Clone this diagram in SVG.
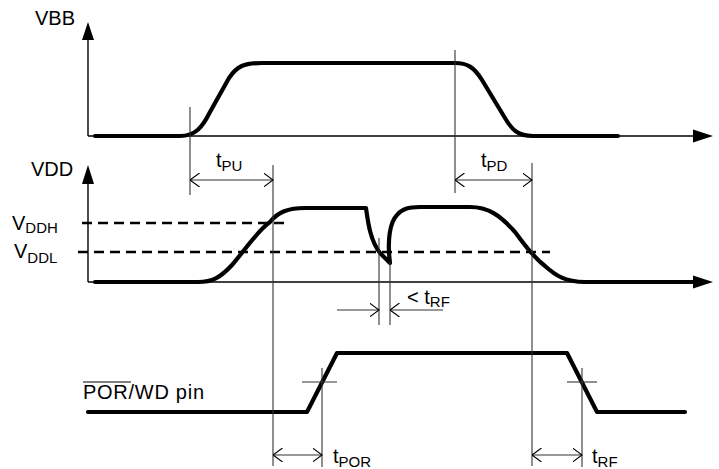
<svg xmlns="http://www.w3.org/2000/svg" width="719" height="469" viewBox="0 0 719 469">
<style>
text{font-family:"Liberation Sans",Arial,sans-serif;fill:#000}
.lbl{font-size:20px}
.sub{font-size:15px}
.axis{stroke:#000;stroke-width:1.4;fill:none}
.thin{stroke:#333;stroke-width:1.1;fill:none}
.trace{stroke:#000;stroke-width:4.2;fill:none;stroke-linecap:round;stroke-linejoin:round}
.dash{stroke:#000;stroke-width:2.6;fill:none;stroke-dasharray:10 6}
.head{fill:#000}
</style>
<defs>
<marker id="open" viewBox="0 0 10 14" refX="9.5" refY="7" markerWidth="10" markerHeight="14" markerUnits="userSpaceOnUse" orient="auto-start-reverse">
<path d="M0,0 L9.5,7 L0,14" fill="none" stroke="#000" stroke-width="1.1"/>
</marker>
</defs>
<g id="axes">
<line class="axis" x1="88" y1="36" x2="88" y2="136"/>
<polygon class="head" points="88,22 82,40 94,40"/>
<line class="axis" x1="88" y1="136" x2="697" y2="136"/>
<polygon class="head" points="713,136 693,129.5 693,142.5"/>
<line class="axis" x1="88" y1="181" x2="88" y2="282"/>
<polygon class="head" points="88,165 82,184 94,184"/>
<line class="axis" x1="88" y1="282" x2="697" y2="282"/>
<polygon class="head" points="713,282 693,275.5 693,288.5"/>
</g>
<g id="labels">
<text class="lbl" x="35" y="25">VBB</text>
<text class="lbl" x="31" y="176">VDD</text>
<text class="lbl" x="12" y="230">V<tspan class="sub" dy="3">DDH</tspan></text>
<text class="lbl" x="14" y="258">V<tspan class="sub" dy="5">DDL</tspan></text>
<text class="lbl" x="83" y="399" textLength="121">POR/WD pin</text>
<line x1="83" y1="382" x2="131" y2="382" stroke="#000" stroke-width="1.2"/>
</g>
<g id="thresholds">
<line class="dash" x1="82" y1="223" x2="290" y2="223"/>
<line class="dash" x1="78" y1="252" x2="550" y2="252"/>
</g>
<g id="vbb-trace">
<path class="trace" d="M95,136 L180,136 C195,136 202,128 210,112 L229,78 C237,66 244,63 262,63 L455,63 C467,63 474,67 482,80 L505,118 C512,130 518,136 533,136 L618,136"/>
</g>
<g id="vdd-trace">
<path class="trace" d="M95,282 L198,282 C212,282 220,278 232,265 C245,250 258,230 270,222 C278,212 288,208 305,208 L366,208 C368,222 370,240 380,253 L390,263 C387,240 390,222 397,215 C402,209 408,207 420,207 L470,207 C488,207 500,215 515,232 C525,245 532,256 545,266 C555,275 565,282 585,282 L693,282"/>
</g>
<g id="por-trace">
<path class="trace" d="M88,412 L307,412 L337,353 L567,353 L597,412 L685,412"/>
</g>
<g id="connectors">
<line class="thin" x1="190" y1="107" x2="190" y2="195"/>
<line class="thin" x1="273" y1="165" x2="273" y2="466"/>
<line class="thin" x1="455" y1="50" x2="455" y2="193"/>
<line class="thin" x1="532" y1="163" x2="532" y2="466"/>
<line class="thin" x1="379" y1="238" x2="379" y2="325"/>
<line class="thin" x1="390" y1="262" x2="390" y2="325"/>
<line class="thin" x1="322" y1="368" x2="322" y2="467"/>
<line class="thin" x1="582" y1="368" x2="582" y2="467"/>
<line class="thin" x1="302" y1="382" x2="337" y2="382"/>
<line class="thin" x1="567" y1="382" x2="597" y2="382"/>
<line class="thin" x1="190" y1="180" x2="273" y2="180" marker-start="url(#open)" marker-end="url(#open)"/>
<line class="thin" x1="455" y1="180" x2="532" y2="180" marker-start="url(#open)" marker-end="url(#open)"/>
<line class="thin" x1="337" y1="310" x2="379" y2="310" marker-end="url(#open)"/>
<line class="thin" x1="443" y1="310" x2="390" y2="310" marker-end="url(#open)"/>
<line class="thin" x1="273" y1="455" x2="322" y2="455" marker-start="url(#open)" marker-end="url(#open)"/>
<line class="thin" x1="532" y1="455" x2="582" y2="455" marker-start="url(#open)" marker-end="url(#open)"/>
</g>
<g id="timing-labels">
<text class="lbl" x="216" y="167">t<tspan class="sub" dy="4">PU</tspan></text>
<text class="lbl" x="481" y="167">t<tspan class="sub" dy="4">PD</tspan></text>
<text class="lbl" x="407" y="304">&lt; t<tspan class="sub" dy="3">RF</tspan></text>
<text class="lbl" x="333" y="463">t<tspan class="sub" dy="4">POR</tspan></text>
<text class="lbl" x="592" y="463">t<tspan class="sub" dy="4">RF</tspan></text>
</g>
</svg>
